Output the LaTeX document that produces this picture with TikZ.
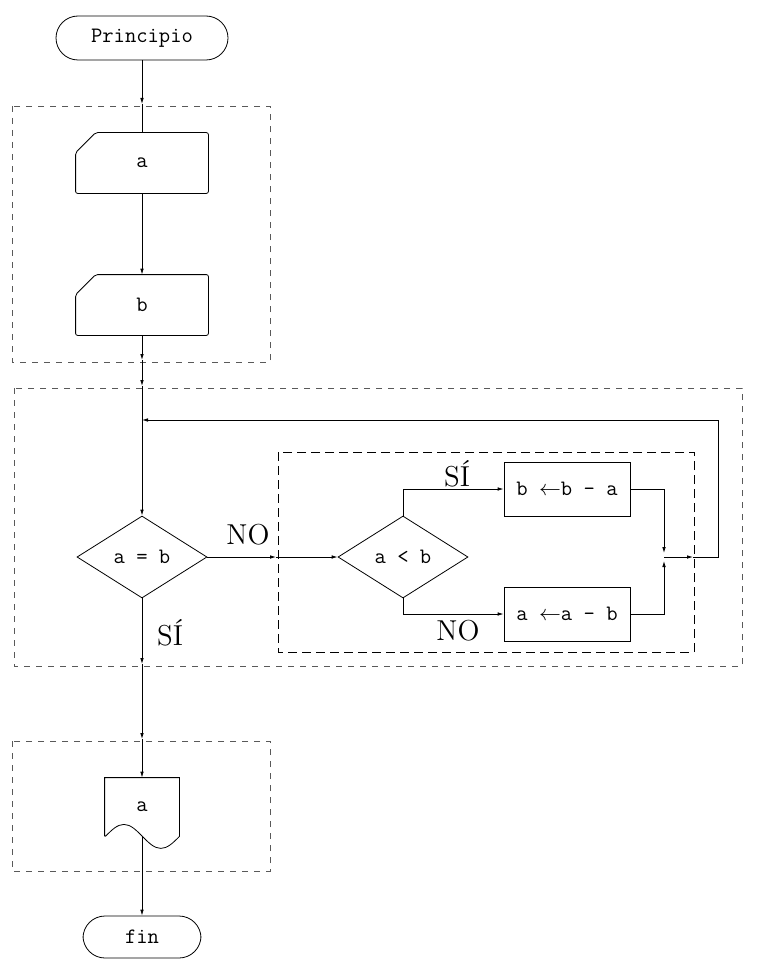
\documentclass[tikz,border=0pt]{standalone}
\usepackage{xcolor}
\usepackage{amsmath}
\usepackage{tikz}
\usetikzlibrary{shapes.geometric,arrows.meta}
\tikzstyle{terminal} = [rectangle, rounded corners=11pt, minimum width=86pt, minimum height=22pt, text centered, draw=black, font=\fontsize{11}{13}\selectfont\ttfamily]
\tikzstyle{entrada} = [rectangle, minimum width=66pt, minimum height=30pt, text centered, font=\fontsize{11}{13}\selectfont\ttfamily]
\tikzstyle{decision} = [diamond, aspect=1.6, minimum width=65pt, minimum height=41pt, inner sep=0pt, text centered, draw=black, font=\fontsize{11}{13}\selectfont\ttfamily]
\tikzstyle{proceso} = [rectangle, minimum width=63pt, minimum height=27pt, text centered, draw=black, font=\fontsize{11}{13}\selectfont\ttfamily]
\tikzstyle{documento} = [rectangle, minimum width=37pt, minimum height=29pt, text centered, font=\fontsize{11}{13}\selectfont\ttfamily]
\tikzstyle{etiqueta} = [font=\Large]
\tikzstyle{bloque} = [draw=black!65, dash pattern=on 3pt off 3pt]
\tikzstyle{bloque2} = [draw=black, dash pattern=on 4.5pt off 2.5pt]
\tikzstyle{connect} = [-{Latex[length=3pt,width=1.8pt]}]

\begin{document}
\begin{tikzpicture}[x=0.5pt, y=-0.5pt]
			\useasboundingbox (0,0) rectangle (762,974);
			% nodos del diagrama
			\node (inicio) [terminal] at (142,38) {Principio};                            % posicion de referencia
			\node (leea) [entrada, below of=inicio, node distance=62.5pt] {a};            % debajo de inicio
			\node (leeb) [entrada, below of=leea, node distance=71pt] {b};                % debajo de leea
			\node (igual) [decision, below of=leeb, node distance=126pt] {a = b};         % debajo de leeb
			\node (menor) [decision, right of=igual, node distance=130.5pt] {a < b};      % a la derecha de igual
			\node (resta1) [proceso, right of=menor, node distance=82pt, yshift=34pt] {b $\leftarrow$b - a};
			\node (resta2) [proceso, right of=menor, node distance=82pt, yshift=-28.5pt] {a $\leftarrow$a - b};
			\node (escribe) [documento, below of=igual, node distance=125pt] {a};         % debajo de igual
			\node (final) [terminal, minimum width=59pt, minimum height=21pt, below of=escribe, node distance=65pt] {fin};

			% etiquetas
			\node (no1) [etiqueta] at (248,535) {NO};
			\node (si1) [etiqueta] at (457,474) {SÍ};
			\node (no2) [etiqueta] at (458,631) {NO};
			\node (si2) [etiqueta] at (170,633) {SÍ};

			% contornos de entrada y documento
			\draw[rounded corners=1pt] ([xshift=10pt]leea.north west) -- (leea.north east) -- (leea.south east) -- (leea.south west) -- ([yshift=-10pt]leea.north west) -- cycle;
			\draw[rounded corners=1pt] ([xshift=10pt]leeb.north west) -- (leeb.north east) -- (leeb.south east) -- (leeb.south west) -- ([yshift=-10pt]leeb.north west) -- cycle;
			\draw (escribe.south west) -- (escribe.north west) -- (escribe.north east) -- (escribe.south east) sin ++(-18.5,12) cos ++(-18.5,-12) sin ++(-18.5,-12) cos ++(-18.5,12);

			% bloques punteados
			\draw[bloque] (12,106) rectangle (270,362);
			\draw[bloque] (14,388) rectangle (742,666);
			\draw[bloque2] (278,452) rectangle (694,652);
			\draw[bloque] (12,741) rectangle (270,871);

			% puntos de paso
			\coordinate (c1) at (142,104);
			\coordinate (c2) at (142,360);
			\coordinate (c3) at (142,386);
			\coordinate (c4) at (276,557);
			\coordinate (c5) at (693,557);
			\coordinate (c6) at (142,420);
			\coordinate (r) at (718,420);
			\coordinate (j) at (664,557);
			\coordinate (c7) at (142,664);
			\coordinate (c8) at (142,739);

			% conectores
			\draw [connect] (inicio) -- (c1);
			\draw (c1) -- (leea);
			\draw [connect] (leea) -- (leeb);
			\draw [connect] (leeb) -- (c2);
			\draw [connect] (c2) -- (c3);
			\draw [connect] (c3) -- (igual);
			\draw [connect] (igual) -- (c4);
			\draw [connect] (c4) -- (menor);
			\draw [connect] (menor.north) |- (resta1);
			\draw [connect] (menor.south) |- (resta2);
			\draw [connect, shorten >=2pt] (resta1) -| (j);
			\draw [connect, shorten >=2pt] (resta2) -| (j);
			\draw [connect] (j) -- (c5);
			\draw [connect] (c5) -| (r) -- (c6);
			\draw [connect] (igual) -- (c7);
			\draw [connect] (c7) -- (c8);
			\draw [connect] (c8) -- (escribe);
			\draw [connect] (escribe.south) -- (final);
		\end{tikzpicture}
\end{document}
